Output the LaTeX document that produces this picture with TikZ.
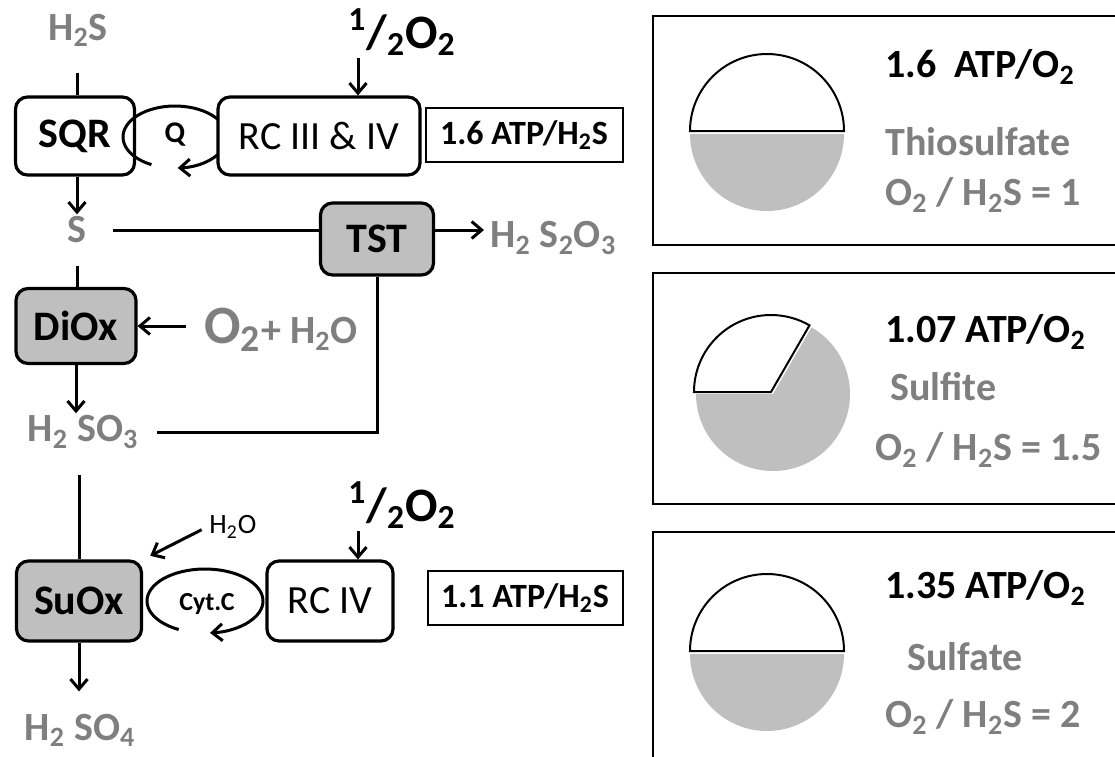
\documentclass[tikz,border=0pt]{standalone}
\usepackage{fontspec}
\setmainfont{Carlito}
\usetikzlibrary{arrows.meta,calc}
\definecolor{txtgray}{RGB}{127,127,127}
\definecolor{boxgray}{RGB}{191,191,191}
\newcommand{\fsz}[1]{\fontsize{#1}{#1}\selectfont}
\tikzset{
  enz/.style={draw, line width=1.6pt, rounded corners=6pt, fill=white, font=\fsz{21}\bfseries, minimum height=39pt},
  rcbox/.style={enz, font=\fsz{20}},
  atpbox/.style={draw, line width=1pt, font=\fsz{17}\bfseries, minimum height=27pt},
  spec/.style={text=txtgray, font=\fsz{20}\bfseries, inner sep=1pt},
  arr/.style={line width=1.5pt, -{Straight Barb[length=5pt,width=8.5pt]}},
  conn/.style={line width=1.5pt},
  panel/.style={draw, line width=1pt},
}
\begin{document}
\begin{tikzpicture}[x=0.5pt, y=-0.5pt]
  \clip (0,0) rectangle (1115,756);
  % sulfide -> sulfur
  \node[spec] (h2s) at (78,30) {H\textsubscript{2}S};
  \node[enz, minimum width=59.5pt] (sqr) at (75,136) {SQR};
  \coordinate (qc) at (175,137);
  \draw[arr] (qc) ++(117:52 and 31) arc[start angle=117, end angle=447, x radius=52, y radius=31];
  \node[font=\fsz{15}\bfseries] (q) at (175,135) {Q};
  \node[rcbox, minimum width=101pt] (rc34) at (319,136) {RC III \& IV};
  \node[font=\fsz{24}\bfseries, anchor=west, inner sep=1pt] (halfa) at (346,32) {\textsuperscript{1}/\textsubscript{2}O\textsubscript{2}};
  \draw[arr] ([xshift=6pt]halfa.south west) -- ([xshift=6pt]halfa.south west |- rc34.north);
  \node[atpbox, minimum width=98.5pt] (atp1) at (524,135) {1.6 ATP/H\textsubscript{2}S};
  \node[spec] (s) at (77,230) {S};
  \draw[conn] ([yshift=-12pt]h2s.south -| s) -- (sqr.north -| s);
  \draw[arr] (sqr.south -| s) -- (s.north);
  % thiosulfate branch
  \node[enz, fill=boxgray, minimum width=56.5pt, minimum height=36pt] (tst) at (377,239) {TST};
  \draw[conn] ([xshift=12pt]s.east) -- (s.east -| tst.west);
  \node[spec, anchor=west] (h2s2o3) at (488,238) {H\textsubscript{2} S\textsubscript{2}O\textsubscript{3}};
  \draw[arr, shorten >=2pt] (s.east -| tst.east) -- (s.east -| h2s2o3.west);
  % sulfur -> sulfite
  \node[enz, fill=boxgray, minimum width=60pt, minimum height=37.5pt] (diox) at (76,326) {DiOx};
  \draw[conn] ([yshift=-10pt]s.south) -- (s.south |- diox.north);
  \node[anchor=west, text=txtgray, font=\fsz{20}\bfseries, inner sep=1pt] (o2h2o) at (202,330) {{\fsz{27}O\textsubscript{2}}+ H\textsubscript{2}O};
  \draw[arr] ([xshift=-8pt]o2h2o.west |- diox.east) -- (diox.east);
  \node[spec] (h2so3) at (83,432) {H\textsubscript{2} SO\textsubscript{3}};
  \draw[arr] (diox.south) -- (diox.south |- h2so3.north);
  \draw[conn] (tst.south) |- ([xshift=8pt]h2so3.east);
  % sulfite -> sulfate
  \node[enz, fill=boxgray, minimum width=62.5pt, minimum height=40pt] (suox) at (79,601) {SuOx};
  \draw[conn] ([yshift=-12pt]h2so3.south -| suox.north) -- (suox.north);
  \coordinate (cc) at (205,601);
  \draw[arr] (cc) ++(117:58 and 32) arc[start angle=117, end angle=445, x radius=58, y radius=32];
  \node[font=\fsz{13}\bfseries] (cyt) at (207,604) {Cyt.C};
  \node[rcbox, minimum width=63pt, minimum height=40pt] (rc4) at (330,601) {RC IV};
  \node[font=\fsz{14}, anchor=west, inner sep=1pt] (h2o) at (207,527) {H\textsubscript{2}O};
  \draw[arr, shorten <=3pt, shorten >=4pt] (h2o.west) -- (suox.north east);
  \node[font=\fsz{24}\bfseries, anchor=west, inner sep=1pt] (halfb) at (346,505) {\textsuperscript{1}/\textsubscript{2}O\textsubscript{2}};
  \draw[arr] ([xshift=6pt]halfb.south west) -- ([xshift=6pt]halfb.south west |- rc4.north);
  \node[atpbox, minimum width=97.5pt] (atp2) at (525,598) {1.1 ATP/H\textsubscript{2}S};
  \node[spec] (h2so4) at (80,730) {H\textsubscript{2} SO\textsubscript{4}};
  \draw[arr, shorten >=10pt] (suox.south) -- (suox.south |- h2so4.north);
  % panels
  \draw[panel] (653,16) rectangle (1130,245);
  \fill[boxgray] (767,134) -- ++(0:77) arc[start angle=0, end angle=180, radius=77] -- cycle;
  \draw[line width=1pt, fill=white] (767,131) -- ++(180:77) arc[start angle=180, end angle=360, radius=77] -- cycle;
  \node[anchor=west, font=\fsz{20}\bfseries, inner sep=1pt] (atpo1) at (883,67) {1.6\ \ ATP/O\textsubscript{2}};
  \node[spec, anchor=west] (thio) at (883,142) {Thiosulfate};
  \node[spec, anchor=west] (ratio1) at (883,195) {O\textsubscript{2} / H\textsubscript{2}S = 1};
  \draw[panel] (653,273) rectangle (1130,504);
  \fill[boxgray] (773,394) -- ++(-60:77) arc[start angle=-60, end angle=180, radius=77] -- cycle;
  \draw[line width=1pt, fill=white] (771,392) -- ++(180:77) arc[start angle=180, end angle=300, radius=77] -- cycle;
  \node[anchor=west, font=\fsz{20}\bfseries, inner sep=1pt] (atpo2) at (883,332) {1.07 ATP/O\textsubscript{2}};
  \node[spec, anchor=west] (sulfite) at (888,387) {Sulfite};
  \node[spec, anchor=west] (ratio2) at (873,450) {O\textsubscript{2} / H\textsubscript{2}S = 1.5};
  \draw[panel] (653,532) rectangle (1130,780);
  \fill[boxgray] (767,654) -- ++(0:77) arc[start angle=0, end angle=180, radius=77] -- cycle;
  \draw[line width=1pt, fill=white] (767,651) -- ++(180:77) arc[start angle=180, end angle=360, radius=77] -- cycle;
  \node[anchor=west, font=\fsz{20}\bfseries, inner sep=1pt] (atpo3) at (883,588) {1.35 ATP/O\textsubscript{2}};
  \node[spec, anchor=west] (sulfate) at (905,657) {Sulfate};
  \node[spec, anchor=west] (ratio3) at (883,717) {O\textsubscript{2} / H\textsubscript{2}S = 2};
\end{tikzpicture}
\end{document}
